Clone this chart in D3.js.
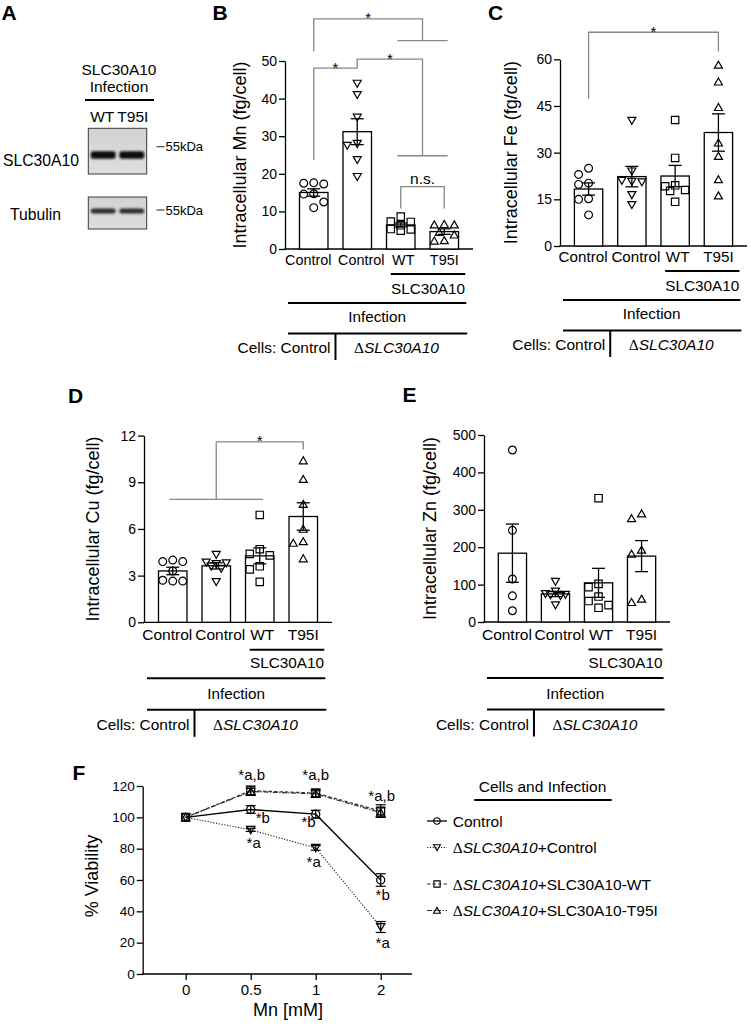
<!DOCTYPE html>
<html><head><meta charset="utf-8">
<script src="https://cdn.jsdelivr.net/npm/d3@7"></script>
<style>
body{margin:0;background:#fff}
text{font-family:"Liberation Sans",Arial,sans-serif;fill:#000}
</style>
</head><body>
<svg id="c" width="750" height="1025" xmlns="http://www.w3.org/2000/svg"></svg>
<script>
// ================= DATA =================
const groupNames = ["Control", "Control", "WT", "T95I"];
const groupMarkers = ["circle", "triDown", "square", "triUp"];

// Panel B: Intracellular Mn (fg/cell)
const mnCtrl   = [17.6, 17.5, 17.3, 14.7, 14.6, 12.5, 11.0];
const mnKoCtrl = [44, 41, 35, 28, 27.5, 23.7, 19.2];
const mnKoWT   = [8.6, 7.3, 7.2, 6.3, 5.3, 5.2, 4.9];
const mnKoT95I = [6.6, 6.5, 6.5, 4.5, 3.8, 2.3, 2.2];
const mnTicks  = [0, 10, 20, 30, 40, 50];

// Panel C: Intracellular Fe (fg/cell)
const feCtrl   = [25, 23, 20.2, 19.8, 15.2, 15, 10];
const feKoCtrl = [40.3, 24, 21, 20.7, 20.5, 16.4, 13.2];
const feKoWT   = [40.5, 28.3, 19.5, 19.2, 18, 17.7, 14.2];
const feKoT95I = [58.2, 52.8, 44.6, 33.2, 28.9, 21.4, 16.2];
const feTicks  = [0, 15, 30, 45, 60];

// Panel D: Intracellular Cu (fg/cell)
const cuCtrl   = [4.0, 3.9, 3.9, 3.3, 2.7, 2.65, 2.65];
const cuKoCtrl = [4.35, 3.85, 3.8, 3.75, 3.6, 3.45, 2.6];
const cuKoWT   = [6.9, 4.7, 4.4, 4.3, 3.6, 3.4, 2.6];
const cuKoT95I = [10.4, 9.2, 7.6, 6.0, 5.2, 5.1, 4.1];
const cuTicks  = [0, 3, 6, 9, 12];

// Panel E: Intracellular Zn (fg/cell)
const znCtrl   = [460, 245, 115, 70, 30];
const znKoCtrl = [108, 82, 75, 73, 72, 70, 45];
const znKoWT   = [331, 102, 93, 68, 56, 45, 38];
const znKoT95I = [290, 277, 193, 182, 62, 53];
const znTicks  = [0, 100, 200, 300, 400, 500];

// Significance brackets (values in data units)
const mnBrackets = [
  {a: [0], b: [2, 3], apex: 61.2, footA: 52.6, footB: 55.4, label: "*"},
  {a: [0], b: [1], apex: 48.1, footA: 23.7, footB: 48.1, label: "*"},
  {a: [1], b: [2, 3], apex: 50.5, footA: 48.1, footB: 24.8, label: "*"},
  {a: [2], b: [3], apex: 16.6, footA: 10.8, footB: 10.8, label: "n.s."}
];
const feBrackets = [{a: [0], b: [3], apex: 68.7, footA: 47.3, footB: 62.5, label: "*"}];
const cuBrackets = [{a: [0, 1, 2], b: [3], apex: 11.6, footA: 7.9, footB: 11.1, label: "*"}];

// Panel F: % Viability vs Mn [mM]
const doses = ["0", "0.5", "1", "2"];
const viaTicks = [0, 20, 40, 60, 80, 100, 120];
const viaCtrl     = [100, 105, 102, 60];
const viaCtrlSem  = [0, 2.5, 2.5, 4];
const viaKo       = [100, 92, 80.5, 30];
const viaKoSem    = [0, 1, 1.5, 3.5];
const viaWT       = [100, 117, 115.5, 104];
const viaWTSem    = [0, 3, 2.5, 4];
const viaT95I     = [100, 116.5, 115, 103];
const viaT95ISem  = [0, 2, 2, 3];
const seriesSuffix = ["Control", "+Control", "+SLC30A10-WT", "+SLC30A10-T95I"];
const seriesKO = [false, true, true, true];
const viaAnno = [
  {label: "*a,b", series: 2, dose: 1}, {label: "*a,b", series: 2, dose: 2}, {label: "*a,b", series: 2, dose: 3},
  {label: "*b", series: 0, dose: 1}, {label: "*b", series: 0, dose: 2}, {label: "*b", series: 0, dose: 3},
  {label: "*a", series: 1, dose: 1}, {label: "*a", series: 1, dose: 2}, {label: "*a", series: 1, dose: 3}
];

// Panel A blot
const blotLanes = ["WT", "T95I"];

// ================= DRAWING =================
const svg = d3.select("#c");
const defs = svg.append("defs");
defs.append("filter").attr("id", "blur").attr("x", "-20%").attr("y", "-100%").attr("width", "140%").attr("height", "300%")
  .append("feGaussianBlur").attr("stdDeviation", 1.2);
const grad = defs.append("linearGradient").attr("id", "blotbg").attr("x1", 0).attr("x2", 0).attr("y1", 0).attr("y2", 1);
grad.append("stop").attr("offset", "0%").attr("stop-color", "#d2d2d2");
grad.append("stop").attr("offset", "100%").attr("stop-color", "#dedede");

function markerPath(type, s) {
  s = s || 1;
  if (type === "circle") { const r = 3.9 * s; return `M${r},0A${r},${r} 0 1,1 ${-r},0A${r},${r} 0 1,1 ${r},0Z`; }
  if (type === "triDown") return `M${-4 * s},${-3.3 * s}L${4 * s},${-3.3 * s}L0,${3.7 * s}Z`;
  if (type === "triUp") return `M0,${-3.7 * s}L${4 * s},${3.3 * s}L${-4 * s},${3.3 * s}Z`;
  if (type === "square") { const h = 3.7 * s; return `M${-h},${-h}H${h}V${h}H${-h}Z`; }
}

function addKO(sel) {
  sel.append("tspan").style("font-family", '"Liberation Serif",serif').text("Δ");
  sel.append("tspan").style("font-style", "italic").text("SLC30A10");
}

function letter(t, x, y) {
  svg.append("text").attr("x", x).attr("y", y).attr("font-size", 21).attr("font-weight", "bold").text(t);
}

// column-limited scatter layout (3 columns, like a dot plot)
function swarm(vals, y, d) {
  const placed = [];
  const offs = [0, -d, d];
  const fallback = [0, -d, d, -d / 2, d / 2];
  const minDist = (dx, py) => placed.length ? d3.min(placed, p => Math.hypot(p.dx - dx, p.py - py)) : Infinity;
  vals.slice().sort((a, b) => b - a).forEach(v => {
    const py = y(v);
    let dx = offs.find(o => minDist(o, py) >= d * 0.95);
    if (dx === undefined) dx = fallback.reduce((best, o) => minDist(o, py) > minDist(best, py) ? o : best, 0);
    placed.push({dx, py, v});
  });
  return placed;
}

const catShift = [-5.5, 4, 2.5, 0];

function barPanel(cfg) {
  const g = svg.append("g");
  const y = d3.scaleLinear([0, cfg.max], [cfg.yBot, cfg.yTop]);
  const x = d3.scaleBand(d3.range(groupNames.length), [cfg.x0, cfg.x1]).paddingInner(0.345).paddingOuter(0.333);
  const bw = x.bandwidth();
  const cx = i => x(i) + bw / 2;

  // y axis
  const ax = g.append("g").attr("transform", `translate(${cfg.x0},0)`)
    .call(d3.axisLeft(y).tickValues(cfg.ticks).tickSize(6).tickSizeOuter(0).tickPadding(2));
  ax.selectAll("path,line").attr("stroke", "#000").attr("stroke-width", 1.3);
  ax.selectAll("text").attr("font-size", 14).attr("font-family", '"Liberation Sans",Arial,sans-serif').attr("fill", "#000");
  // x axis line
  g.append("line").attr("x1", cfg.x0 - 0.6).attr("x2", cfg.x1).attr("y1", y(0)).attr("y2", y(0))
    .attr("stroke", "#000").attr("stroke-width", 1.3);
  // title
  g.append("text").attr("transform", `translate(${cfg.titleX},${(cfg.yTop + cfg.yBot) / 2}) rotate(-90)`)
    .attr("text-anchor", "middle").attr("dy", "0.35em").attr("font-size", 18).text(cfg.title);

  const stats = cfg.data.map(v => ({mean: d3.mean(v), sem: d3.deviation(v) / Math.sqrt(v.length)}));
  // bars
  g.selectAll("rect.bar").data(stats).join("rect").attr("class", "bar")
    .attr("x", (d, i) => x(i)).attr("width", bw)
    .attr("y", d => y(d.mean)).attr("height", d => y(0) - y(d.mean))
    .attr("fill", "#fff").attr("stroke", "#000").attr("stroke-width", 1.3);
  // points
  cfg.data.forEach((vals, i) => {
    const pts = swarm(vals, y, 10);
    g.selectAll(null).data(pts).join("path")
      .attr("d", markerPath(groupMarkers[i]))
      .attr("transform", p => `translate(${cx(i) + p.dx},${p.py})`)
      .attr("fill", "none").attr("stroke", "#000").attr("stroke-width", 1.2);
  });
  // error bars
  stats.forEach((s, i) => {
    const c = cx(i);
    const e = g.append("g").attr("stroke", "#000").attr("stroke-width", 1.3);
    e.append("line").attr("x1", c).attr("x2", c).attr("y1", y(s.mean + s.sem)).attr("y2", y(s.mean - s.sem));
    [s.mean + s.sem, s.mean - s.sem].forEach(v =>
      e.append("line").attr("x1", c - 6.5).attr("x2", c + 6.5).attr("y1", y(v)).attr("y2", y(v)));
  });
  // category labels
  groupNames.forEach((n, i) => g.append("text").attr("x", cx(i) + catShift[i]).attr("y", y(0) + cfg.off[0])
    .attr("text-anchor", "middle").attr("font-size", cfg.catFs).text(n));
  const o = cfg.off;
  const hl = (x1, x2, yy) => g.append("line").attr("x1", x1).attr("x2", x2).attr("y1", yy).attr("y2", yy)
    .attr("stroke", "#000").attr("stroke-width", 2);
  const sx1 = cx(2) - 10, sx2 = cx(3) + 21;
  hl(sx1, sx2, y(0) + o[1]);
  g.append("text").attr("x", (sx1 + sx2) / 2).attr("y", y(0) + o[2]).attr("text-anchor", "middle").attr("font-size", 15.3).text("SLC30A10");
  const ix1 = cfg.x0 + 3, ix2 = cx(3) + 22;
  hl(ix1, ix2, y(0) + o[3]);
  g.append("text").attr("x", (ix1 + ix2) / 2).attr("y", y(0) + o[4]).attr("text-anchor", "middle").attr("font-size", 15.3).text("Infection");
  hl(ix1, ix2 + 1, y(0) + o[5]);
  const dv = (cx(0) + cx(1)) / 2;
  g.append("line").attr("x1", dv).attr("x2", dv).attr("y1", y(0) + o[5]).attr("y2", y(0) + o[7])
    .attr("stroke", "#000").attr("stroke-width", 2);
  g.append("text").attr("x", dv - 5).attr("y", y(0) + o[6]).attr("text-anchor", "end").attr("font-size", 15.5).text("Cells: Control");
  addKO(g.append("text").attr("x", dv + 61).attr("y", y(0) + o[6]).attr("text-anchor", "middle").attr("font-size", 15.5));

  // brackets
  (cfg.brackets || []).forEach(b => {
    const gx = idx => d3.mean(idx, cx);
    const xa = gx(b.a), xb = gx(b.b);
    const bg = g.append("g").attr("stroke", "#888").attr("stroke-width", 1.3).attr("fill", "none");
    const yA = y(b.apex);
    bg.append("path").attr("d", `M${xa},${y(b.footA)}V${yA}H${xb}V${y(b.footB)}`);
    [[b.a, b.footA], [b.b, b.footB]].forEach(([idx, f]) => {
      if (idx.length > 1) {
        const sp = bw * 0.12;
        bg.append("line").attr("x1", cx(idx[0]) - sp).attr("x2", cx(idx[idx.length - 1]) + sp)
          .attr("y1", y(f)).attr("y2", y(f));
      }
    });
    const isStar = b.label === "*";
    g.append("text").attr("x", (xa + xb) / 2).attr("y", isStar ? yA + 4.5 : yA - 2.5)
      .attr("text-anchor", "middle").attr("font-size", isStar ? 15 : 15.5).text(b.label);
  });
}

// ---------- Panel A ----------
letter("A", 1.5, 20);
svg.append("text").attr("x", 119).attr("y", 75).attr("text-anchor", "middle").attr("font-size", 15.5).text("SLC30A10");
svg.append("text").attr("x", 119).attr("y", 91.5).attr("text-anchor", "middle").attr("font-size", 15.5).text("Infection");
svg.append("line").attr("x1", 85).attr("x2", 154).attr("y1", 100).attr("y2", 100).attr("stroke", "#000").attr("stroke-width", 2);
const lane = d3.scaleBand(blotLanes, [88.3, 146.7]).paddingInner(0.06).paddingOuter(0.05);
const laneLabelX = d => lane(d) + lane.bandwidth() / 2;
blotLanes.forEach(l => svg.append("text").attr("x", laneLabelX(l) + (l === "WT" ? -1 : 1)).attr("y", 121.7)
  .attr("text-anchor", "middle").attr("font-size", 15.5).text(l));
const blots = [
  {label: "SLC30A10", labelX: 3, labelY: 166, top: 128.3, h: 45.7, bandY: 155, bandH: 7.5, bandColor: "#111", mark: 146.7},
  {label: "Tubulin", labelX: 10, labelY: 219.5, top: 197, h: 32, bandY: 211, bandH: 5, bandColor: "#2e2e2e", mark: 210}
];
blots.forEach(b => {
  svg.append("rect").attr("x", 88.3).attr("y", b.top).attr("width", 58.4).attr("height", b.h)
    .attr("fill", "url(#blotbg)").attr("stroke", "#3a3a3a").attr("stroke-width", 1);
  blotLanes.forEach(l => svg.append("rect").attr("x", lane(l) + 1).attr("width", lane.bandwidth() - 2)
    .attr("y", b.bandY - b.bandH / 2).attr("height", b.bandH).attr("rx", 2.5)
    .attr("fill", b.bandColor).attr("filter", "url(#blur)"));
  svg.append("text").attr("x", b.labelX).attr("y", b.labelY).attr("font-size", 15.7).text(b.label);
  svg.append("line").attr("x1", 156.5).attr("x2", 164.5).attr("y1", b.mark).attr("y2", b.mark).attr("stroke", "#444").attr("stroke-width", 1.2);
  svg.append("text").attr("x", 165.5).attr("y", b.mark + 4.7).attr("font-size", 13).text("55kDa");
});

// ---------- Panels B-E ----------
const offTop = [16, 25, 44.5, 54, 73, 84.5, 104, 111];
const offBot = [18, 27.5, 46, 56, 76.5, 87.5, 107.5, 114.5];
letter("B", 212.5, 19.5);
barPanel({x0: 285, x1: 473, yTop: 61, yBot: 249, max: 50, ticks: mnTicks, data: [mnCtrl, mnKoCtrl, mnKoWT, mnKoT95I],
  title: "Intracellular Mn (fg/cell)", titleX: 240, off: offTop, catFs: 14.4, brackets: mnBrackets});
letter("C", 488, 20);
barPanel({x0: 560, x1: 747, yTop: 59.3, yBot: 246, max: 60, ticks: feTicks, data: [feCtrl, feKoCtrl, feKoWT, feKoT95I],
  title: "Intracellular Fe (fg/cell)", titleX: 511, off: offTop, catFs: 15.2, brackets: feBrackets});
letter("D", 68, 402.7);
barPanel({x0: 144, x1: 332, yTop: 435.6, yBot: 622.3, max: 12, ticks: cuTicks, data: [cuCtrl, cuKoCtrl, cuKoWT, cuKoT95I],
  title: "Intracellular Cu (fg/cell)", titleX: 93, off: offBot, catFs: 15.5, brackets: cuBrackets});
letter("E", 402.5, 401.7);
barPanel({x0: 484, x1: 670, yTop: 435, yBot: 622, max: 500, ticks: znTicks, data: [znCtrl, znKoCtrl, znKoWT, znKoT95I],
  title: "Intracellular Zn (fg/cell)", titleX: 430, off: offBot, catFs: 15.5, brackets: []});

// ---------- Panel F ----------
letter("F", 72.5, 780);
(function () {
  const g = svg.append("g");
  const y = d3.scaleLinear([0, 120], [974, 786]);
  const x = d3.scalePoint(doses, [185.7, 380.7]);
  const ax = g.append("g").attr("transform", "translate(142.7,0)")
    .call(d3.axisLeft(y).tickValues(viaTicks).tickSize(6).tickSizeOuter(0).tickPadding(2));
  ax.selectAll("path,line").attr("stroke", "#000").attr("stroke-width", 1.3);
  ax.selectAll("text").attr("font-size", 13.5).attr("font-family", '"Liberation Sans",Arial,sans-serif').attr("fill", "#000");
  const bx = g.append("g").attr("transform", `translate(0,${y(0)})`)
    .call(d3.axisBottom(x).tickSize(6).tickSizeOuter(0).tickPadding(4));
  bx.select(".domain").remove();
  bx.selectAll("line").attr("stroke", "#000").attr("stroke-width", 1.3);
  bx.selectAll("text").attr("font-size", 15).attr("font-family", '"Liberation Sans",Arial,sans-serif').attr("fill", "#000");
  g.append("line").attr("x1", 142.1).attr("x2", 412).attr("y1", y(0)).attr("y2", y(0)).attr("stroke", "#000").attr("stroke-width", 1.3);
  g.append("text").attr("transform", `translate(92,876) rotate(-90)`).attr("text-anchor", "middle").attr("dy", "0.35em")
    .attr("font-size", 18).text("% Viability");
  g.append("text").attr("x", 288).attr("y", 1016).attr("text-anchor", "middle").attr("font-size", 18).text("Mn [mM]");

  const series = [
    {v: viaCtrl, s: viaCtrlSem, m: "circle", dash: null, color: "#000", w: 1.3},
    {v: viaKo, s: viaKoSem, m: "triDown", dash: "1.2,1.6", color: "#222", w: 1.1},
    {v: viaWT, s: viaWTSem, m: "square", dash: "3.5,2", color: "#333", w: 1.2},
    {v: viaT95I, s: viaT95ISem, m: "triUp", dash: "5,1.5,1.2,1.5", color: "#333", w: 1.2}
  ];
  const line = d3.line().x((d, i) => x(doses[i])).y(d => y(d));
  series.slice().reverse().forEach(sr => {
    g.append("path").attr("d", line(sr.v)).attr("fill", "none").attr("stroke", sr.color).attr("stroke-width", sr.w)
      .attr("stroke-dasharray", sr.dash);
  });
  series.slice().reverse().forEach(sr => {
    sr.v.forEach((v, i) => {
      const px = x(doses[i]);
      if (sr.s[i] > 0) {
        const e = g.append("g").attr("stroke", "#000").attr("stroke-width", 1.2);
        e.append("line").attr("x1", px).attr("x2", px).attr("y1", y(v + sr.s[i])).attr("y2", y(v - sr.s[i]));
        [v + sr.s[i], v - sr.s[i]].forEach(t => e.append("line").attr("x1", px - 5).attr("x2", px + 5).attr("y1", y(t)).attr("y2", y(t)));
      }
      g.append("path").attr("d", markerPath(sr.m, 1.05)).attr("transform", `translate(${px},${y(v)})`)
        .attr("fill", "none").attr("stroke", "#000").attr("stroke-width", 1.2);
    });
  });
  // annotations
  const annoStyle = {
    "*a,b": [[0, 0], [1, -11], [0, -13], [1, -10.5]],
    "*b": [[0, 0], [5, 13.5], [0, 13], [2, 19.5]],
    "*a": [[0, 0], [3, 18], [-2, 19], [2, 21]]
  };
  const annoAnchor = {"*a,b": "middle", "*b": "start", "*a": "middle"};
  viaAnno.forEach(a => {
    const sr = series[a.series];
    const [dx, dy] = annoStyle[a.label][a.dose];
    let anchor = annoAnchor[a.label];
    if (a.label === "*b" && a.dose === 2) anchor = "end";
    if (a.label === "*b" && a.dose === 3) anchor = "middle";
    g.append("text").attr("x", x(doses[a.dose]) + dx).attr("y", y(sr.v[a.dose]) + dy)
      .attr("text-anchor", anchor).attr("font-size", 15).text(a.label);
  });

  // legend
  g.append("text").attr("x", 542.5).attr("y", 791.7).attr("text-anchor", "middle").attr("font-size", 15.5).text("Cells and Infection");
  g.append("line").attr("x1", 474.3).attr("x2", 611.7).attr("y1", 800).attr("y2", 800).attr("stroke", "#000").attr("stroke-width", 2);
  const rowY = [826.5, 853, 889.5, 916];
  series.forEach((sr, i) => {
    const cy = rowY[i] - 5.5;
    g.append("line").attr("x1", 427).attr("x2", 447).attr("y1", cy).attr("y2", cy).attr("stroke", sr.color)
      .attr("stroke-width", sr.w).attr("stroke-dasharray", sr.dash);
    g.append("path").attr("d", markerPath(sr.m, 0.85)).attr("transform", `translate(437,${cy})`)
      .attr("fill", "none").attr("stroke", "#000").attr("stroke-width", 1.1);
    const t = g.append("text").attr("x", 452.7).attr("y", rowY[i]).attr("font-size", 15.5);
    if (seriesKO[i]) addKO(t);
    t.append("tspan").text(seriesSuffix[i]);
  });
})();
</script>
</body></html>
